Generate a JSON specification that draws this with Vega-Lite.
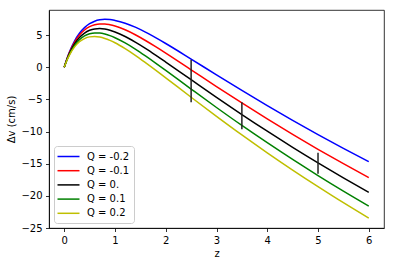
{
  "$schema": "https://vega.github.io/schema/vega-lite/v6.json",
  "width": 335,
  "height": 218,
  "autosize": {"type": "none"},
  "padding": {"left": 49, "top": 10, "right": 10, "bottom": 38},
  "background": "white",
  "config": {
    "font": "DejaVu Sans",
    "view": {"stroke": "black", "strokeWidth": 0.8},
    "axis": {
      "labelFont": "DejaVu Sans", "labelFontSize": 10, "labelColor": "black",
      "titleFont": "DejaVu Sans", "titleFontSize": 10, "titleFontWeight": "normal", "titleColor": "black",
      "tickColor": "black", "tickSize": 3.5, "tickWidth": 0.8, "labelPadding": 3.5,
      "domainColor": "black", "domainWidth": 0.8, "grid": false, "labelOverlap": false
    }
  },
  "datasets": {
    "curves": [
      {"z":0,"v":0,"Q":"Q = -0.2"},{"z":0.05,"v":1.24,"Q":"Q = -0.2"},{"z":0.1,"v":2.32,"Q":"Q = -0.2"},{"z":0.2,"v":4.03,"Q":"Q = -0.2"},{"z":0.3,"v":5.28,"Q":"Q = -0.2"},{"z":0.4,"v":6.16,"Q":"Q = -0.2"},{"z":0.5,"v":6.77,"Q":"Q = -0.2"},{"z":0.6,"v":7.16,"Q":"Q = -0.2"},{"z":0.7,"v":7.37,"Q":"Q = -0.2"},{"z":0.8,"v":7.45,"Q":"Q = -0.2"},{"z":0.9,"v":7.41,"Q":"Q = -0.2"},{"z":1.0,"v":7.27,"Q":"Q = -0.2"},{"z":1.2,"v":6.85,"Q":"Q = -0.2"},{"z":1.4,"v":6.23,"Q":"Q = -0.2"},{"z":1.6,"v":5.46,"Q":"Q = -0.2"},{"z":1.8,"v":4.6,"Q":"Q = -0.2"},{"z":2.0,"v":3.69,"Q":"Q = -0.2"},{"z":2.5,"v":1.27,"Q":"Q = -0.2"},{"z":3.0,"v":-1.19,"Q":"Q = -0.2"},{"z":3.5,"v":-3.61,"Q":"Q = -0.2"},{"z":4.0,"v":-5.97,"Q":"Q = -0.2"},{"z":4.5,"v":-8.26,"Q":"Q = -0.2"},{"z":5.0,"v":-10.47,"Q":"Q = -0.2"},{"z":5.5,"v":-12.62,"Q":"Q = -0.2"},{"z":6.0,"v":-14.69,"Q":"Q = -0.2"},
      {"z":0,"v":0,"Q":"Q = -0.1"},{"z":0.05,"v":1.2,"Q":"Q = -0.1"},{"z":0.1,"v":2.23,"Q":"Q = -0.1"},{"z":0.2,"v":3.84,"Q":"Q = -0.1"},{"z":0.3,"v":5.0,"Q":"Q = -0.1"},{"z":0.4,"v":5.79,"Q":"Q = -0.1"},{"z":0.5,"v":6.31,"Q":"Q = -0.1"},{"z":0.6,"v":6.61,"Q":"Q = -0.1"},{"z":0.7,"v":6.74,"Q":"Q = -0.1"},{"z":0.8,"v":6.74,"Q":"Q = -0.1"},{"z":0.9,"v":6.62,"Q":"Q = -0.1"},{"z":1.0,"v":6.42,"Q":"Q = -0.1"},{"z":1.2,"v":5.82,"Q":"Q = -0.1"},{"z":1.4,"v":5.05,"Q":"Q = -0.1"},{"z":1.6,"v":4.16,"Q":"Q = -0.1"},{"z":1.8,"v":3.2,"Q":"Q = -0.1"},{"z":2.0,"v":2.2,"Q":"Q = -0.1"},{"z":2.5,"v":-0.4,"Q":"Q = -0.1"},{"z":3.0,"v":-3.01,"Q":"Q = -0.1"},{"z":3.5,"v":-5.56,"Q":"Q = -0.1"},{"z":4.0,"v":-8.04,"Q":"Q = -0.1"},{"z":4.5,"v":-10.44,"Q":"Q = -0.1"},{"z":5.0,"v":-12.76,"Q":"Q = -0.1"},{"z":5.5,"v":-15.0,"Q":"Q = -0.1"},{"z":6.0,"v":-17.17,"Q":"Q = -0.1"},
      {"z":0,"v":0,"Q":"Q = 0."},{"z":0.05,"v":1.13,"Q":"Q = 0."},{"z":0.1,"v":2.09,"Q":"Q = 0."},{"z":0.2,"v":3.59,"Q":"Q = 0."},{"z":0.3,"v":4.63,"Q":"Q = 0."},{"z":0.4,"v":5.32,"Q":"Q = 0."},{"z":0.5,"v":5.75,"Q":"Q = 0."},{"z":0.6,"v":5.96,"Q":"Q = 0."},{"z":0.7,"v":6.01,"Q":"Q = 0."},{"z":0.8,"v":5.93,"Q":"Q = 0."},{"z":0.9,"v":5.75,"Q":"Q = 0."},{"z":1.0,"v":5.48,"Q":"Q = 0."},{"z":1.2,"v":4.78,"Q":"Q = 0."},{"z":1.4,"v":3.9,"Q":"Q = 0."},{"z":1.6,"v":2.93,"Q":"Q = 0."},{"z":1.8,"v":1.89,"Q":"Q = 0."},{"z":2.0,"v":0.81,"Q":"Q = 0."},{"z":2.5,"v":-1.94,"Q":"Q = 0."},{"z":3.0,"v":-4.68,"Q":"Q = 0."},{"z":3.5,"v":-7.36,"Q":"Q = 0."},{"z":4.0,"v":-9.95,"Q":"Q = 0."},{"z":4.5,"v":-12.45,"Q":"Q = 0."},{"z":5.0,"v":-14.86,"Q":"Q = 0."},{"z":5.5,"v":-17.19,"Q":"Q = 0."},{"z":6.0,"v":-19.45,"Q":"Q = 0."},
      {"z":0,"v":0,"Q":"Q = 0.1"},{"z":0.05,"v":1.07,"Q":"Q = 0.1"},{"z":0.1,"v":1.96,"Q":"Q = 0.1"},{"z":0.2,"v":3.34,"Q":"Q = 0.1"},{"z":0.3,"v":4.27,"Q":"Q = 0.1"},{"z":0.4,"v":4.87,"Q":"Q = 0.1"},{"z":0.5,"v":5.2,"Q":"Q = 0.1"},{"z":0.6,"v":5.34,"Q":"Q = 0.1"},{"z":0.7,"v":5.31,"Q":"Q = 0.1"},{"z":0.8,"v":5.16,"Q":"Q = 0.1"},{"z":0.9,"v":4.92,"Q":"Q = 0.1"},{"z":1.0,"v":4.59,"Q":"Q = 0.1"},{"z":1.2,"v":3.78,"Q":"Q = 0.1"},{"z":1.4,"v":2.82,"Q":"Q = 0.1"},{"z":1.6,"v":1.76,"Q":"Q = 0.1"},{"z":1.8,"v":0.65,"Q":"Q = 0.1"},{"z":2.0,"v":-0.49,"Q":"Q = 0.1"},{"z":2.5,"v":-3.39,"Q":"Q = 0.1"},{"z":3.0,"v":-6.26,"Q":"Q = 0.1"},{"z":3.5,"v":-9.05,"Q":"Q = 0.1"},{"z":4.0,"v":-11.74,"Q":"Q = 0.1"},{"z":4.5,"v":-14.34,"Q":"Q = 0.1"},{"z":5.0,"v":-16.84,"Q":"Q = 0.1"},{"z":5.5,"v":-19.26,"Q":"Q = 0.1"},{"z":6.0,"v":-21.59,"Q":"Q = 0.1"},
      {"z":0,"v":0,"Q":"Q = 0.2"},{"z":0.05,"v":1.01,"Q":"Q = 0.2"},{"z":0.1,"v":1.85,"Q":"Q = 0.2"},{"z":0.2,"v":3.12,"Q":"Q = 0.2"},{"z":0.3,"v":3.96,"Q":"Q = 0.2"},{"z":0.4,"v":4.46,"Q":"Q = 0.2"},{"z":0.5,"v":4.72,"Q":"Q = 0.2"},{"z":0.6,"v":4.78,"Q":"Q = 0.2"},{"z":0.7,"v":4.69,"Q":"Q = 0.2"},{"z":0.8,"v":4.48,"Q":"Q = 0.2"},{"z":0.9,"v":4.18,"Q":"Q = 0.2"},{"z":1.0,"v":3.81,"Q":"Q = 0.2"},{"z":1.2,"v":2.9,"Q":"Q = 0.2"},{"z":1.4,"v":1.86,"Q":"Q = 0.2"},{"z":1.6,"v":0.73,"Q":"Q = 0.2"},{"z":1.8,"v":-0.44,"Q":"Q = 0.2"},{"z":2.0,"v":-1.64,"Q":"Q = 0.2"},{"z":2.5,"v":-4.67,"Q":"Q = 0.2"},{"z":3.0,"v":-7.64,"Q":"Q = 0.2"},{"z":3.5,"v":-10.53,"Q":"Q = 0.2"},{"z":4.0,"v":-13.31,"Q":"Q = 0.2"},{"z":4.5,"v":-15.99,"Q":"Q = 0.2"},{"z":5.0,"v":-18.57,"Q":"Q = 0.2"},{"z":5.5,"v":-21.07,"Q":"Q = 0.2"},{"z":6.0,"v":-23.47,"Q":"Q = 0.2"}
    ],
    "errors": [
      {"z":2.5,"v":-5.45,"hi":1.15},
      {"z":3.5,"v":-9.65,"hi":-5.45},
      {"z":5.0,"v":-16.55,"hi":-13.3}
    ]
  },
  "encoding": {
    "x": {"field": "z", "type": "quantitative",
          "scale": {"domain": [-0.3, 6.3], "nice": false, "zero": false},
          "axis": {"values": [0,1,2,3,4,5,6], "title": "z", "titlePadding": 3, "labelFlush": false, "labelOverlap": false}},
    "y": {"field": "v", "type": "quantitative",
          "scale": {"domain": [-25.0, 8.9], "nice": false, "zero": false},
          "axis": {"values": [-25,-20,-15,-10,-5,0,5], "title": "Δv (cm/s)", "titlePadding": 4, "labelFlush": false, "labelOverlap": false}}
  },
  "layer": [
    {
      "data": {"name": "curves"},
      "mark": {"type": "line", "strokeWidth": 1.5, "interpolate": "monotone", "clip": true},
      "encoding": {
        "color": {"field": "Q", "type": "nominal",
                  "scale": {"domain": ["Q = -0.2","Q = -0.1","Q = 0.","Q = 0.1","Q = 0.2"],
                            "range": ["#0000ff","#ff0000","#000000","#008000","#bfbf00"]},
                  "legend": {"title": null, "orient": "bottom-left", "offset": 5,
                             "symbolType": "M-2,0L2,0", "symbolSize": 121, "symbolStrokeWidth": 1.5,
                             "symbolOffset": 4, "labelOffset": 12, "labelFontSize": 10, "labelFont": "DejaVu Sans", "labelColor": "black",
                             "padding": 4, "rowPadding": 2.2, "strokeColor": "#cccccc", "fillColor": "white", "cornerRadius": 3}}
      }
    },
    {
      "data": {"name": "errors"},
      "mark": {"type": "rule", "strokeWidth": 1.5, "color": "#222222"},
      "encoding": {
        "y2": {"field": "hi"}
      }
    }
  ]
}
